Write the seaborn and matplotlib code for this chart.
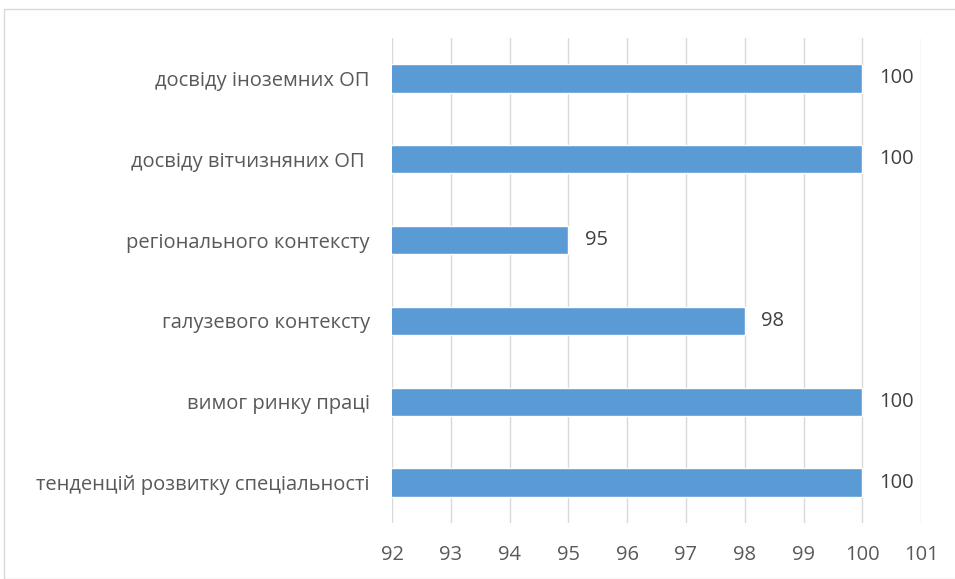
import matplotlib
matplotlib.use("Agg")
import matplotlib.pyplot as plt
import seaborn as sns
import pandas as pd

# Chart data
categories = [
    "досвіду іноземних ОП",
    "досвіду вітчизняних ОП ",
    "регіонального контексту",
    "галузевого контексту",
    "вимог ринку праці",
    "тенденцій розвитку спеціальності",
]
values = [100, 100, 95, 98, 100, 100]
x_ticks = [92, 93, 94, 95, 96, 97, 98, 99, 100, 101]

df = pd.DataFrame({"category": categories, "value": values})

sns.set_theme(style="white")
plt.rcParams["font.family"] = ["Open Sans", "DejaVu Sans"]

fig = plt.figure(figsize=(9.55, 5.79), dpi=100)
ax = fig.add_axes([0.4105, 0.0967, 0.554, 0.8377])

sns.barplot(data=df, x="value", y="category", orient="h", color="#5B9BD5",
            saturation=1, width=0.35, ax=ax)

ax.set_xlim(x_ticks[0], x_ticks[-1])
ax.set_xticks(x_ticks)
ax.set_xlabel("")
ax.set_ylabel("")
ax.grid(axis="x", color="#D9D9D9", linewidth=1)
ax.set_axisbelow(True)
for s in ["top", "right", "bottom", "left"]:
    ax.spines[s].set_visible(False)
ax.tick_params(axis="both", length=0, labelsize=14.5, colors="#595959")
ax.tick_params(axis="x", pad=16)
ax.tick_params(axis="y", pad=16)

for i, v in enumerate(values):
    ax.annotate(str(v), xy=(v, i), xytext=(12, 0), textcoords="offset points",
                va="center", ha="left", fontsize=14.5, color="#404040")

# light frame around the chart
fig.patches.append(plt.Rectangle((0.004, 0.0), 1.2, 0.984, transform=fig.transFigure,
                                 fill=False, edgecolor="#D9D9D9", linewidth=1))

fig.savefig("out.png", dpi=100)
